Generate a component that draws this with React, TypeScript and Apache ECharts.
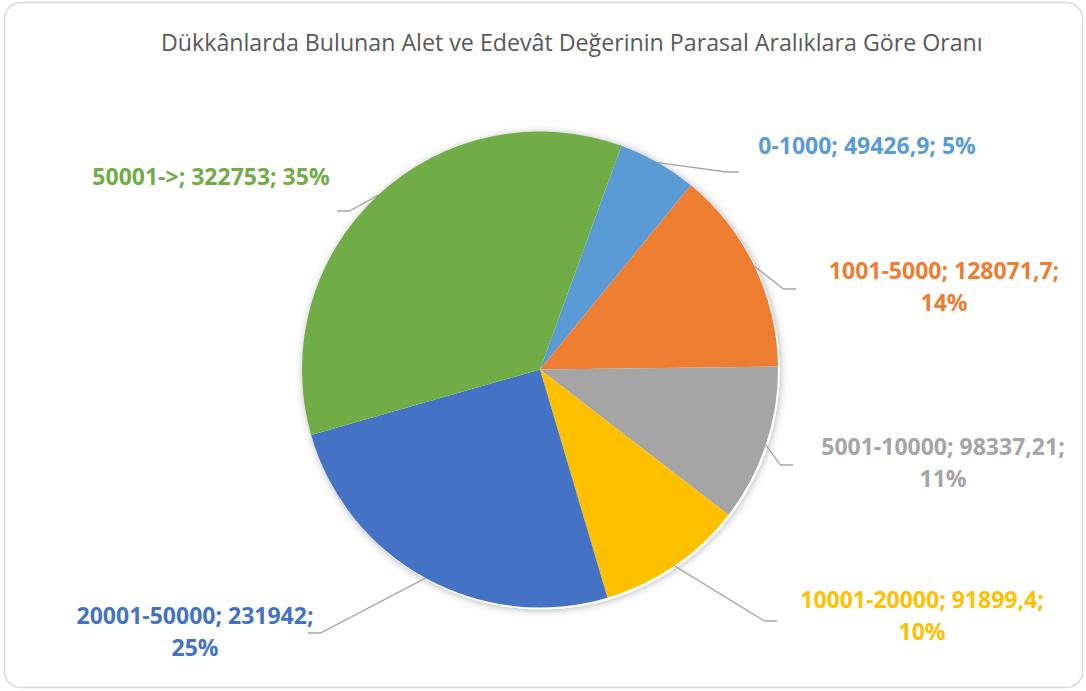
import React, { useEffect, useRef } from "react";
import * as echarts from "echarts";

const titleText = "Dükkânlarda Bulunan Alet ve Edevât Değerinin Parasal Aralıklara Göre Oranı";
const categories = ["0-1000", "1001-5000", "5001-10000", "10001-20000", "20001-50000", "50001->"];
const values = [49426.9, 128071.7, 98337.21, 91899.4, 231942, 322753];
const colors = ["#5B9BD5", "#ED7D31", "#A5A5A5", "#FFC000", "#4472C4", "#70AD47"];

// label placement: [labelCenterX, labelCenterY, leaderEndX, leaderEndY]
const labelPlacement = [
  [867, 145, 739, 172],
  [944, 286, 796, 289],
  [943, 462, 793, 465],
  [922, 615, 777, 621],
  [195, 631, 308, 633],
  [211, 176, 337, 211],
];

const W = 1086;
const H = 691;
const CX = 540;
const CY = 369.5;
const R = 238;

export default function App() {
  const ref = useRef<HTMLDivElement>(null);
  useEffect(() => {
    if (!ref.current) return;
    const chart = echarts.init(ref.current, null, { renderer: "svg", width: W, height: H });
    const data = categories.map((name, i) => ({
      name,
      value: values[i],
      itemStyle: { color: colors[i] },
      label: { color: colors[i] },
    }));
    chart.setOption({
      animation: false,
      backgroundColor: "#ffffff",
      title: {
        text: titleText,
        left: 156,
        top: 25,
        textStyle: {
          fontFamily: "Open Sans",
          fontSize: 23.2,
          fontWeight: "normal",
          color: "#595959",
        },
      },
      graphic: [
        {
          type: "rect",
          z: -10,
          shape: { x: 4.5, y: 2.5, width: 1078, height: 685, r: 16 },
          style: { fill: "#ffffff", stroke: "#d9d9d9", lineWidth: 1.5 },
          silent: true,
        },
      ],
      series: [
        {
          type: "pie",
          silent: true,
          center: [CX + 2, CY + 2],
          radius: R,
          startAngle: 70,
          z: 1,
          label: { show: false },
          labelLine: { show: false },
          itemStyle: {
            color: "#ffffff",
            shadowBlur: 8,
            shadowColor: "rgba(0,0,0,0.35)",
          },
          data: [{ value: 1, name: "" }],
        },
        {
          type: "pie",
          center: [CX, CY],
          radius: R,
          startAngle: 70,
          clockwise: true,
          percentPrecision: 0,
          z: 2,
          data,
          label: {
            show: true,
            position: "outside",
            fontFamily: "Open Sans",
            fontWeight: "bold",
            fontSize: 23,
            lineHeight: 32,
            align: "center",
            formatter: (p: any) => {
              const v = String(p.value).replace(".", ",");
              const full = `${p.name}; ${v}; ${p.percent}%`;
              return full.length > 20 ? `${p.name}; ${v};\n${p.percent}%` : full;
            },
          },
          labelLine: {
            show: true,
            lineStyle: { color: "#a6a6a6", width: 1.3 },
          },
          labelLayout: (params: any) => {
            const pl = labelPlacement[params.dataIndex];
            if (!pl) return {};
            const start = params.labelLinePoints ? params.labelLinePoints[0] : [pl[2], pl[3]];
            const dir = pl[2] > CX ? 1 : -1;
            return {
              x: pl[0],
              y: pl[1],
              align: "center",
              verticalAlign: "middle",
              labelLinePoints: [
                [start[0], start[1]],
                [pl[2] - dir * 12.5, pl[3]],
                [pl[2], pl[3]],
              ],
            };
          },
        },
      ],
    });
    return () => chart.dispose();
  }, []);
  return (
    <div
      ref={ref}
      style={{ position: "fixed", left: 0, top: 0, width: W, height: H, background: "#fff" }}
    />
  );
}
